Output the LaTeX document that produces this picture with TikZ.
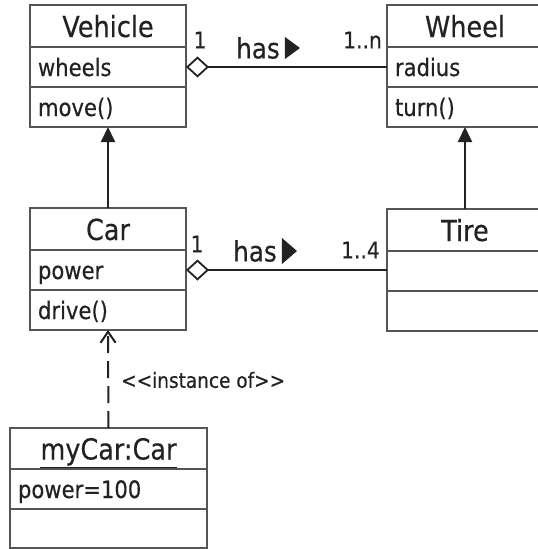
\documentclass[tikz,border=0pt]{standalone}
\usepackage{fontspec}
\setmainfont{DejaVu Sans}[FakeStretch=0.88,FakeBold=0.4]
\usetikzlibrary{arrows.meta}
\definecolor{fg}{HTML}{222222}
\definecolor{edge}{HTML}{555555}

\begin{document}
\begin{tikzpicture}[x=1pt,y=-1pt,text=fg,
  part/.style={draw=edge,line width=1.2pt,rectangle,minimum width=156pt,text width=140pt,
    inner xsep=8pt,inner ysep=0pt,outer sep=0pt,minimum height=40pt},
  title/.style={part,minimum height=42pt,align=center,font=\fontsize{29}{31}\selectfont,
    text height=24pt,text depth=2pt},
  attr/.style={part,align=left,font=\fontsize{24}{27}\selectfont,text height=20pt,text depth=2pt},
  lbl/.style={inner sep=0pt,font=\fontsize{23}{26}\selectfont},
  haslbl/.style={inner sep=0pt,font=\fontsize{28}{30}\selectfont},
  agg/.style={draw=fg,line width=2pt,{Diamond[open,length=23pt,width=21pt,line width=1.8pt]}-},
  gen/.style={draw=fg,line width=2pt,-{Triangle[length=15pt,width=14pt]}},
  dep/.style={draw=fg,line width=2pt,dash pattern=on 17pt off 8pt,
    -{Straight Barb[length=11pt,width=15pt,line width=2pt]}}]
\useasboundingbox (0,0) rectangle (538,549);
% classes
\node[title,anchor=north west] (vehicle) at (30,5) {Vehicle};
\node[attr,anchor=north] (vehicle-a) at (vehicle.south) {wheels};
\node[attr,anchor=north] (vehicle-o) at (vehicle-a.south) {move()};
\node[title,anchor=north west] (wheel) at (387,5) {Wheel};
\node[attr,anchor=north] (wheel-a) at (wheel.south) {radius};
\node[attr,anchor=north] (wheel-o) at (wheel-a.south) {turn()};
\node[title,anchor=north west] (car) at (30,208) {Car};
\node[attr,anchor=north] (car-a) at (car.south) {power};
\node[attr,anchor=north] (car-o) at (car-a.south) {drive()};
\node[title,anchor=north west] (tire) at (387,209) {Tire};
\node[attr,anchor=north] (tire-a) at (tire.south) {};
\node[attr,anchor=north] (tire-o) at (tire-a.south) {};
% object
\node[title,anchor=north west,minimum width=197pt,text width=181pt,minimum height=41pt] (mycar) at (10,428) {\underline{myCar:Car}};
\node[attr,anchor=north,minimum width=197pt,text width=181pt] (mycar-a) at (mycar.south) {power=100};
\node[attr,anchor=north,minimum width=197pt,text width=181pt,minimum height=39pt] (mycar-o) at (mycar-a.south) {};
% associations
\draw[agg] (vehicle-a.east) -- (wheel-a.west);
\draw[agg] (car-a.east) -- (tire-a.north west |- car-a.east);
\node[lbl] (m1) at (200,40) {1};
\node[lbl,anchor=east] (m2) at (382,40) {1..n};
\node[haslbl] (has1) at (258,48) {has};
\fill[fg] ([xshift=5pt]has1.east) ++(0,-11) -- ++(15,11) -- ++(-15,11) -- cycle;
\node[lbl] (m3) at (197,244) {1};
\node[lbl,anchor=east] (m4) at (380,250) {1..4};
\node[haslbl] (has2) at (255,251) {has};
\fill[fg] ([xshift=5pt]has2.east) ++(0,-13) -- ++(15,13) -- ++(-15,13) -- cycle;
% inheritance
\draw[gen] (car.north) -- (vehicle-o.south);
\draw[gen] (tire.north) -- (wheel-o.south);
\draw[dep] (mycar.north) -- (car-o.south);
\node[lbl,anchor=west,font=\fontsize{21}{24}\selectfont] (inst) at (121,380) {{<}{<}instance of{>}{>}};
\end{tikzpicture}
\end{document}
